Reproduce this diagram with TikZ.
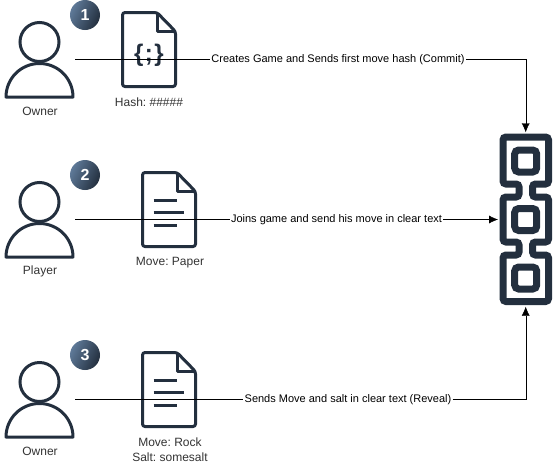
\documentclass[tikz,border=0pt]{standalone}
\usepackage{fontspec}
\setmainfont{Liberation Sans}
\usetikzlibrary{arrows.meta}
\definecolor{icondark}{HTML}{232F3E}
\definecolor{badgelight}{HTML}{5F7A99}
\definecolor{labelgray}{HTML}{333333}
\frenchspacing
\tikzset{
  person/.pic={
    \draw[icondark,line width=3pt] (0,-17.5) circle (19.5);
    \draw[icondark,line width=3pt,line join=round] (-33.5,37.5) arc (180:360:33.5) -- cycle;
  },
  docfile/.pic={
    \draw[icondark,line width=3pt,rounded corners=2.5pt] (-26.5,-37) -- (8,-37) -- (26.5,-18) -- (26.5,37) -- (-26.5,37) -- cycle;
    \draw[icondark,line width=3pt,line join=round] (8,-37) -- (8,-18) -- (26.5,-18);
  },
  doclines/.pic={
    \draw[icondark,line width=3pt] (-15.5,-9) -- (7.5,-9) (-15.5,3) -- (14.5,3) (-15.5,15.5) -- (7.5,15.5);
  },
  badge/.style={shape=circle,minimum size=30pt,inner sep=0pt,text=white,font=\fontsize{16}{16}\selectfont\bfseries,left color=badgelight,right color=icondark,shading angle=65},
  iconlabel/.style={text=labelgray,align=center,inner sep=0pt,font=\fontsize{12}{15}\selectfont},
  msg/.style={fill=white,inner sep=1pt,font=\fontsize{11}{12}\selectfont},
  anchorbox/.style={minimum width=71pt,minimum height=1pt,inner sep=0pt},
  square/.style={draw=icondark,line width=7pt,rounded corners=4pt,minimum size=22pt,inner sep=0pt}
}
\begin{document}
\begin{tikzpicture}[x=1pt,y=-1pt]
\useasboundingbox (0,0) rectangle (554,464);

\pic at (39.5,59.5) {person};
\pic at (39.5,219.5) {person};
\pic at (39.5,399.5) {person};
\pic at (149,49.5) {docfile};
\pic at (169,209.5) {docfile};
\pic at (169,209.5) {doclines};
\pic at (169,389.5) {docfile};
\pic at (169,389.5) {doclines};

\node(code) at (149,55)[text=icondark,inner sep=0pt,font=\fontsize{24}{24}\selectfont\bfseries] {\{\kern1.5pt;\kern1.5pt\}};
\node(one) at (85,15)[badge] {1};
\node(two) at (85,175)[badge] {2};
\node(three) at (85,355)[badge] {3};

\node(ownerA) at (39.5,59.5)[anchorbox] {};
\node(player) at (39.5,219.5)[anchorbox] {};
\node(ownerB) at (39.5,399.5)[anchorbox] {};
\node at (40,111.5)[iconlabel] {Owner};
\node at (40,271.5)[iconlabel] {Player};
\node at (40,451.5)[iconlabel] {Owner};
\node(hash) at (149,102.5)[iconlabel] {Hash: \#\#\#\#\#};
\node(paper) at (170,262.5)[iconlabel] {Move: Paper};
\node(rock) at (170,449.5)[iconlabel] {Move: Rock\\Salt: somesalt};

% chain
\node(chain) at (525.7,219.5)[minimum width=55pt,minimum height=174pt,inner sep=0pt] {};
\draw[icondark,line width=7pt,rounded corners=3pt]
  (503,137) -- (548.5,137) -- (548.5,184) -- (532.5,184) -- (532.5,197) -- (548.5,197)
  -- (548.5,242) -- (532.5,242) -- (532.5,255) -- (548.5,255) -- (548.5,301.5)
  -- (503,301.5) -- (503,255) -- (519,255) -- (519,242) -- (503,242) -- (503,197)
  -- (519,197) -- (519,184) -- (503,184) -- cycle;
\node(linkA) at (525.7,161)[square] {};
\node(linkB) at (525.7,219.5)[square] {};
\node(linkC) at (525.7,278)[square] {};

\node(commit) at (338,59.5)[msg] {Creates Game and Sends first move hash (Commit)};
\node(join) at (336.5,219.5)[msg] {Joins game and send his move in clear text};
\node(reveal) at (348,399.5)[msg] {Sends Move and salt in clear text (Reveal)};

\draw (ownerA) -- (commit);
\draw (player) -- (join);
\draw (ownerB) -- (reveal);
\path [-{Latex[length=9pt,width=8pt]},draw]
  (commit) -| (chain.north);
\path [-{Latex[length=9pt,width=8pt]},draw]
  (join) -- (chain.west);
\path [-{Latex[length=9pt,width=8pt]},draw]
  (reveal) -| (chain.south);
\end{tikzpicture}
\end{document}
